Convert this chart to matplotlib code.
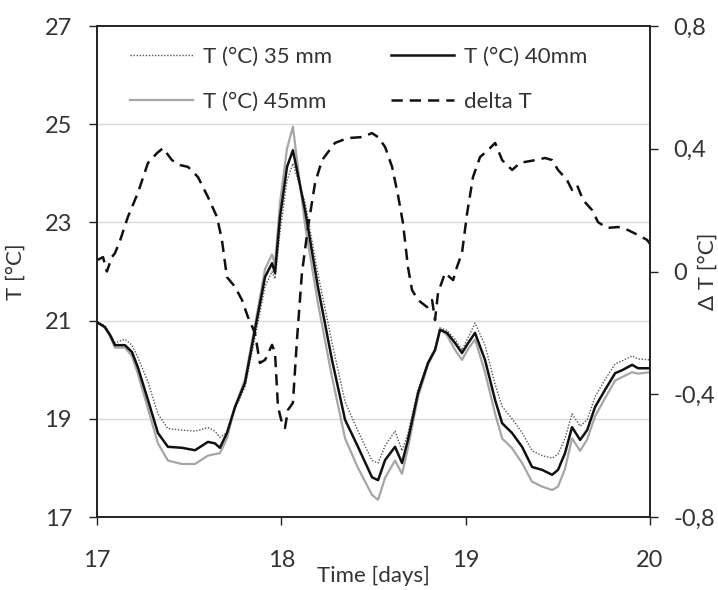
import numpy as np
import matplotlib
matplotlib.use("Agg")
import matplotlib.pyplot as plt

# time axis for the three temperature series (days)
t_days = [17.000, 17.043, 17.071, 17.098, 17.152, 17.190, 17.222, 17.277, 17.331, 17.385,
          17.461, 17.532, 17.602, 17.640, 17.667, 17.705, 17.749, 17.803, 17.857, 17.912,
          17.950, 17.966, 17.993, 18.031, 18.063, 18.129, 18.199, 18.275, 18.346, 18.416,
          18.492, 18.525, 18.563, 18.617, 18.655, 18.687, 18.742, 18.796, 18.834, 18.861,
          18.899, 18.943, 18.980, 19.013, 19.051, 19.105, 19.160, 19.198, 19.252, 19.306,
          19.360, 19.415, 19.469, 19.501, 19.539, 19.577, 19.621, 19.659, 19.702, 19.756,
          19.811, 19.849, 19.903, 19.935, 20.000]

T40 = [20.97, 20.87, 20.71, 20.50, 20.50, 20.36, 20.05, 19.38, 18.71, 18.43,
       18.41, 18.36, 18.53, 18.50, 18.41, 18.71, 19.24, 19.73, 20.81, 21.89,
       22.17, 21.97, 23.11, 24.13, 24.47, 23.25, 21.68, 20.20, 18.98, 18.43,
       17.81, 17.75, 18.16, 18.43, 18.10, 18.57, 19.53, 20.14, 20.40, 20.81,
       20.75, 20.54, 20.34, 20.54, 20.75, 20.20, 19.38, 18.91, 18.71, 18.43,
       18.02, 17.96, 17.86, 17.96, 18.30, 18.83, 18.57, 18.77, 19.24, 19.59,
       19.93, 19.99, 20.10, 20.03, 20.03]

T35 = [20.97, 20.90, 20.72, 20.55, 20.62, 20.50, 20.25, 19.75, 19.10, 18.80,
       18.77, 18.75, 18.82, 18.75, 18.62, 18.72, 19.20, 19.65, 20.65, 21.70,
       22.00, 21.85, 22.80, 23.85, 24.20, 23.40, 21.95, 20.55, 19.35, 18.75,
       18.15, 18.10, 18.45, 18.75, 18.35, 18.70, 19.60, 20.15, 20.45, 20.85,
       20.80, 20.62, 20.40, 20.65, 20.95, 20.50, 19.70, 19.25, 19.00, 18.72,
       18.35, 18.25, 18.20, 18.28, 18.60, 19.10, 18.85, 18.98, 19.45, 19.80,
       20.12, 20.18, 20.28, 20.22, 20.20]

T45 = [20.97, 20.85, 20.68, 20.45, 20.45, 20.28, 19.92, 19.20, 18.50, 18.15,
       18.08, 18.08, 18.25, 18.28, 18.30, 18.60, 19.25, 19.80, 20.90, 22.05,
       22.35, 22.15, 23.40, 24.50, 24.95, 22.95, 21.35, 19.85, 18.60, 18.00,
       17.45, 17.35, 17.80, 18.15, 17.88, 18.40, 19.45, 20.10, 20.40, 20.85,
       20.70, 20.40, 20.20, 20.42, 20.62, 19.95, 19.10, 18.60, 18.40, 18.10,
       17.72, 17.62, 17.55, 17.62, 17.98, 18.60, 18.35, 18.58, 19.05, 19.42,
       19.78, 19.85, 19.95, 19.92, 19.95]

# delta T series (right axis)
t_delta = [17.005, 17.033, 17.054, 17.081, 17.098, 17.125, 17.168, 17.222, 17.277, 17.326,
           17.358, 17.407, 17.450, 17.494, 17.548, 17.602, 17.651, 17.678, 17.705, 17.749,
           17.787, 17.819, 17.857, 17.884, 17.912, 17.950, 17.966, 17.982, 18.004, 18.020,
           18.036, 18.063, 18.085, 18.112, 18.145, 18.183, 18.221, 18.291, 18.362, 18.438,
           18.492, 18.525, 18.563, 18.601, 18.633, 18.660, 18.687, 18.709, 18.742, 18.791,
           18.818, 18.834, 18.850, 18.888, 18.932, 18.953, 18.980, 19.008, 19.040, 19.078,
           19.122, 19.160, 19.198, 19.252, 19.295, 19.322, 19.377, 19.431, 19.469, 19.501,
           19.550, 19.577, 19.604, 19.637, 19.686, 19.718, 19.767, 19.827, 19.881, 19.935,
           19.984, 20.000]

delta_T = [0.038, 0.047, 0.000, 0.047, 0.060, 0.100, 0.178, 0.256, 0.354, 0.386,
           0.402, 0.363, 0.347, 0.341, 0.308, 0.243, 0.178, 0.103, -0.018, -0.050,
           -0.093, -0.148, -0.200, -0.298, -0.288, -0.239, -0.265, -0.441, -0.494, -0.510,
           -0.451, -0.428, -0.223, -0.005, 0.145, 0.288, 0.363, 0.419, 0.435, 0.438,
           0.451, 0.438, 0.406, 0.341, 0.249, 0.158, 0.015, -0.060, -0.093, -0.116,
           -0.093, -0.158, -0.070, -0.005, -0.028, 0.015, 0.060, 0.190, 0.308, 0.373,
           0.396, 0.419, 0.363, 0.331, 0.354, 0.357, 0.363, 0.370, 0.363, 0.331,
           0.298, 0.266, 0.282, 0.233, 0.200, 0.161, 0.142, 0.145, 0.135, 0.119,
           0.103, 0.090]

x_ticks = [17, 18, 19, 20]
t_ticks = [17, 19, 21, 23, 25, 27]
d_ticks = [0.8, 0.4, 0.0, -0.4, -0.8]
d_tick_labels = ["0,8", "0,4", "0", "-0,4", "-0,8"]

plt.rcParams['font.family'] = ['Lato', 'DejaVu Sans']
txt = '#333333'

fig = plt.figure(figsize=(7.18, 5.9), dpi=100)
ax = fig.add_axes([0.135, 0.1237, 0.7703, 0.8322])
ax2 = ax.twinx()

l35, = ax.plot(t_days, T35, color='#555555', lw=1.0, ls=(0, (1, 1.2)), label='T (°C) 35 mm')
l45, = ax.plot(t_days, T45, color='#a6a6a6', lw=1.6, label='T (°C) 45mm')
l40, = ax.plot(t_days, T40, color='#111111', lw=1.8, label='T (°C) 40mm')
ld, = ax2.plot(t_delta, delta_T, color='#111111', lw=1.8, ls=(0, (4.5, 2.8)), label='delta T')

ax.set_xlim(17, 20)
ax.set_ylim(17, 27)
ax2.set_ylim(-0.8, 0.8)
ax.set_xticks(x_ticks)
ax.set_yticks(t_ticks)
ax2.set_yticks(d_ticks)
ax2.set_yticklabels(d_tick_labels)

for y in [19, 21, 23, 25]:
    ax.axhline(y, color='#d9d9d9', lw=1.0, zorder=0)

for a in (ax, ax2):
    for s in a.spines.values():
        s.set_color('#222222')
        s.set_linewidth(1.2)
    a.tick_params(direction='out', length=6, width=1.0, colors='#222222',
                  labelsize=17, labelcolor=txt, pad=12)
ax.tick_params(axis='x', pad=18)
ax2.tick_params(axis='y', pad=11)

ax.set_ylabel('T [°C]', fontsize=16, color=txt)
ax.yaxis.set_label_coords(-0.128, 0.5)
ax2.set_ylabel('Δ T [°C]', fontsize=16, color=txt)
ax2.yaxis.set_label_coords(1.087, 0.5)
ax.set_xlabel('Time [days]', fontsize=16, color=txt)
ax.xaxis.set_label_coords(0.5, -0.10)

ax2.legend([l35, l45, l40, ld], [h.get_label() for h in [l35, l45, l40, ld]],
           ncol=2, loc='upper left', bbox_to_anchor=(0.06, 0.957), frameon=False,
           borderpad=0, borderaxespad=0,
           fontsize=16, handlelength=2.85, handletextpad=0.45, columnspacing=2.63,
           labelspacing=1.1, labelcolor=txt)

fig.savefig('out.png', dpi=100)
